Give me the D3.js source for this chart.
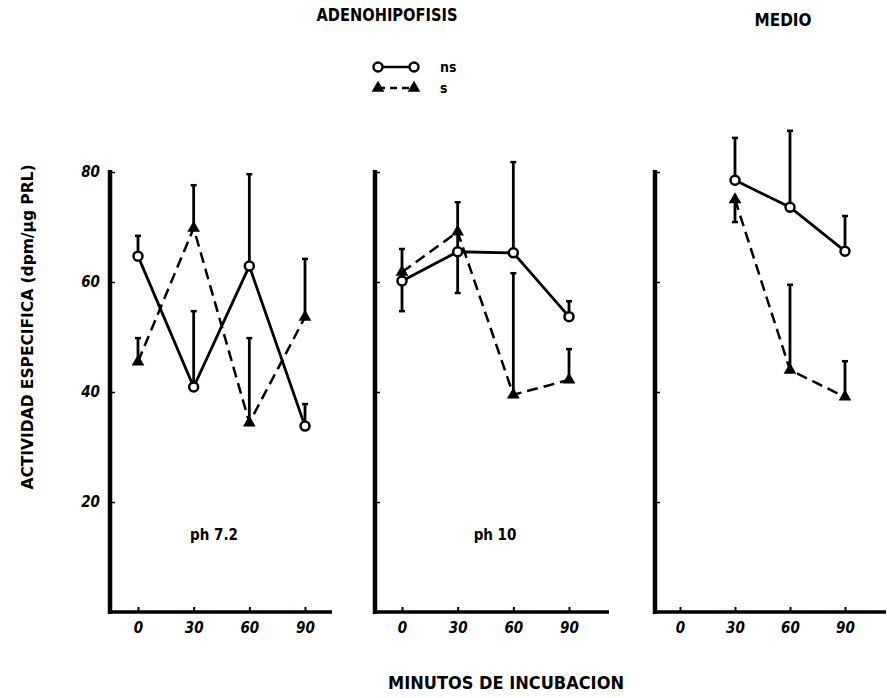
<!DOCTYPE html>
<html>
<head>
<meta charset="utf-8">
<script src="https://cdn.jsdelivr.net/npm/d3@7/dist/d3.min.js"></script>
<style>
  body { margin: 0; background: #fff; }
  svg text { font-family: 'DejaVu Sans Condensed', 'DejaVu Sans', sans-serif; font-weight: bold; fill: #000; }
</style>
</head>
<body>
<script>

// x values (minutes) and y ticks
const times = [0, 30, 60, 90];
const medioTimes = [30, 60, 90];
const yTicks = [20, 40, 60, 80];

// pH 7.2 (adenohipofisis)
const ph72NS   = [64.7, 40.9, 62.9, 33.8];
const ph72NSHi = [68.4, 54.7, 79.6, 37.8];
const ph72S    = [45.5, 69.8, 34.4, 53.6];
const ph72SHi  = [49.8, 77.6, 49.8, 64.2];

// pH 10 (adenohipofisis)
const ph10NS   = [60.2, 65.5, 65.3, 53.7];
const ph10NSHi = [66.0, 74.5, 81.8, 56.5];
const ph10NSLo = [54.7, 58.0, null, null];
const ph10S    = [61.8, 69.1, 39.5, 42.2];
const ph10SHi  = [null, null, 61.6, 47.8];

// medio
const medioNS   = [78.5, 73.6, 65.6];
const medioNSHi = [86.2, 87.5, 72.0];
const medioS    = [75.0, 44.0, 39.1];
const medioSHi  = [null, 59.5, 45.6];
const medioSLo  = [70.9, null, null];

const panels = [
  { label: 'ph 7.2', t: times,
    ns: { v: ph72NS, hi: ph72NSHi, lo: [] },
    s:  { v: ph72S,  hi: ph72SHi,  lo: [] } },
  { label: 'ph 10', t: times,
    ns: { v: ph10NS, hi: ph10NSHi, lo: ph10NSLo },
    s:  { v: ph10S,  hi: ph10SHi,  lo: [] } },
  { label: '', t: medioTimes,
    ns: { v: medioNS, hi: medioNSHi, lo: [] },
    s:  { v: medioS,  hi: medioSHi,  lo: medioSLo } }
];

// panel layout: axis x, first/last tick x, right end of x axis, label x
const layout = [
  { axis: 110, x0: 138, x90: 305, end: 332, lx: 214 },
  { axis: 375, x0: 402, x90: 569, end: 609, lx: 495 },
  { axis: 655, x0: 680, x90: 845, end: 886, lx: 0 }
];

const WIDTH = 887, HEIGHT = 698;
const BASE = 612, TOP = 172;

const svg = d3.select('body').append('svg')
  .attr('width', WIDTH)
  .attr('height', HEIGHT);

const y = d3.scaleLinear().domain([0, 80]).range([BASE, TOP]);

const lineGen = (x) => d3.line()
  .defined((d) => d.v != null)
  .x((d) => x(d.t))
  .y((d) => y(d.v));

const tri = d3.symbol().type(d3.symbolTriangle).size(70);

panels.forEach((p, i) => {
  const L = layout[i];
  const x = d3.scaleLinear().domain([0, 90]).range([L.x0, L.x90]);
  const g = svg.append('g');

  // y axis
  g.append('line')
    .attr('x1', L.axis).attr('x2', L.axis)
    .attr('y1', BASE + 2).attr('y2', TOP - 2)
    .attr('stroke', '#000').attr('stroke-width', 4.5);

  const yAx = g.append('g')
    .attr('transform', `translate(${L.axis},0)`)
    .call(d3.axisRight(y).tickValues(yTicks).tickSize(5).tickSizeOuter(0).tickFormat(''));
  yAx.select('.domain').remove();
  yAx.selectAll('line').attr('stroke', '#000').attr('stroke-width', 1.5);

  if (i === 0) {
    const yl = g.append('g')
      .attr('transform', `translate(${L.axis},0)`)
      .call(d3.axisLeft(y).tickValues(yTicks).tickSize(0).tickPadding(10));
    yl.select('.domain').remove();
    yl.selectAll('text')
      .style('font-size', '15px')
      .style('font-style', 'italic')
      .style('font-family', "'DejaVu Sans Condensed', sans-serif")
      .style('font-weight', 'bold');
  }

  // x axis
  g.append('line')
    .attr('x1', L.axis - 2).attr('x2', L.end)
    .attr('y1', BASE).attr('y2', BASE)
    .attr('stroke', '#000').attr('stroke-width', 3.5);

  const xAx = g.append('g')
    .attr('transform', `translate(0,${BASE})`)
    .call(d3.axisTop(x).tickValues(times).tickSize(5).tickSizeOuter(0).tickFormat(''));
  xAx.select('.domain').remove();
  xAx.selectAll('line').attr('stroke', '#000').attr('stroke-width', 2);

  const xl = g.append('g')
    .attr('transform', `translate(0,${BASE})`)
    .call(d3.axisBottom(x).tickValues(times).tickSize(0).tickPadding(10));
  xl.select('.domain').remove();
  xl.selectAll('text')
    .style('font-size', '15px')
    .style('font-style', 'italic')
    .style('font-weight', 'bold');

  // series
  const pts = (ser) => p.t.map((t, k) => ({ t, v: ser.v[k], hi: ser.hi[k], lo: ser.lo[k] }));
  const nsPts = pts(p.ns), sPts = pts(p.s);

  // error bars
  [nsPts, sPts].forEach((arr) => {
    arr.forEach((d) => {
      [d.hi, d.lo].forEach((e) => {
        if (e == null) return;
        g.append('line')
          .attr('x1', x(d.t)).attr('x2', x(d.t))
          .attr('y1', y(d.v)).attr('y2', y(e))
          .attr('stroke', '#000').attr('stroke-width', 2.8);
        g.append('line')
          .attr('x1', x(d.t) - 3).attr('x2', x(d.t) + 3)
          .attr('y1', y(e)).attr('y2', y(e))
          .attr('stroke', '#000').attr('stroke-width', 2.5);
      });
    });
  });

  g.append('path')
    .datum(sPts)
    .attr('d', lineGen(x))
    .attr('fill', 'none')
    .attr('stroke', '#000')
    .attr('stroke-width', 2.5)
    .attr('stroke-dasharray', '11,6');

  g.append('path')
    .datum(nsPts)
    .attr('d', lineGen(x))
    .attr('fill', 'none')
    .attr('stroke', '#000')
    .attr('stroke-width', 2.8);

  g.selectAll('.tri')
    .data(sPts)
    .enter().append('path')
      .attr('class', 'tri')
      .attr('d', tri)
      .attr('transform', (d) => `translate(${x(d.t)},${y(d.v)})`)
      .attr('fill', '#000');

  g.selectAll('.dot')
    .data(nsPts)
    .enter().append('circle')
      .attr('class', 'dot')
      .attr('cx', (d) => x(d.t))
      .attr('cy', (d) => y(d.v))
      .attr('r', 4.5)
      .attr('fill', '#fff')
      .attr('stroke', '#000')
      .attr('stroke-width', 2.5);

  if (p.label) {
    g.append('text')
      .attr('x', L.lx)
      .attr('y', 540)
      .attr('text-anchor', 'middle')
      .style('font-size', '15px')
      .text(p.label);
  }
});

// titles
svg.append('text')
  .attr('x', 387).attr('y', 21)
  .attr('text-anchor', 'middle')
  .attr('textLength', 141).attr('lengthAdjust', 'spacingAndGlyphs')
  .style('font-size', '17px')
  .text('ADENOHIPOFISIS');

svg.append('text')
  .attr('x', 783).attr('y', 26)
  .attr('text-anchor', 'middle')
  .attr('textLength', 57).attr('lengthAdjust', 'spacingAndGlyphs')
  .style('font-size', '17px')
  .text('MEDIO');

svg.append('text')
  .attr('x', 506).attr('y', 689)
  .attr('text-anchor', 'middle')
  .attr('textLength', 236).attr('lengthAdjust', 'spacingAndGlyphs')
  .style('font-size', '17px')
  .text('MINUTOS DE INCUBACION');

svg.append('text')
  .attr('transform', 'translate(33,327) rotate(-90)')
  .attr('text-anchor', 'middle')
  .attr('textLength', 325).attr('lengthAdjust', 'spacingAndGlyphs')
  .style('font-size', '15px')
  .style('font-family', "'DejaVu Sans', sans-serif")
  .text('ACTIVIDAD ESPECIFICA (dpm/μg PRL)');

// legend
const leg = svg.append('g');
const legRows = [
  { label: 'ns', y: 67, dash: null },
  { label: 's', y: 88, dash: '7,5' }
];
legRows.forEach((r, k) => {
  leg.append('line')
    .attr('x1', 378).attr('x2', 414)
    .attr('y1', r.y).attr('y2', r.y)
    .attr('stroke', '#000').attr('stroke-width', 2.5)
    .attr('stroke-dasharray', r.dash);
  [378, 414].forEach((cx) => {
    if (k === 0) {
      leg.append('circle')
        .attr('cx', cx).attr('cy', r.y).attr('r', 4.5)
        .attr('fill', '#fff').attr('stroke', '#000').attr('stroke-width', 2.5);
    } else {
      leg.append('path')
        .attr('d', tri)
        .attr('transform', `translate(${cx},${r.y})`)
        .attr('fill', '#000');
    }
  });
  leg.append('text')
    .attr('x', 440).attr('y', r.y + 5)
    .style('font-size', '14px')
    .text(r.label);
});

</script>
</body>
</html>
